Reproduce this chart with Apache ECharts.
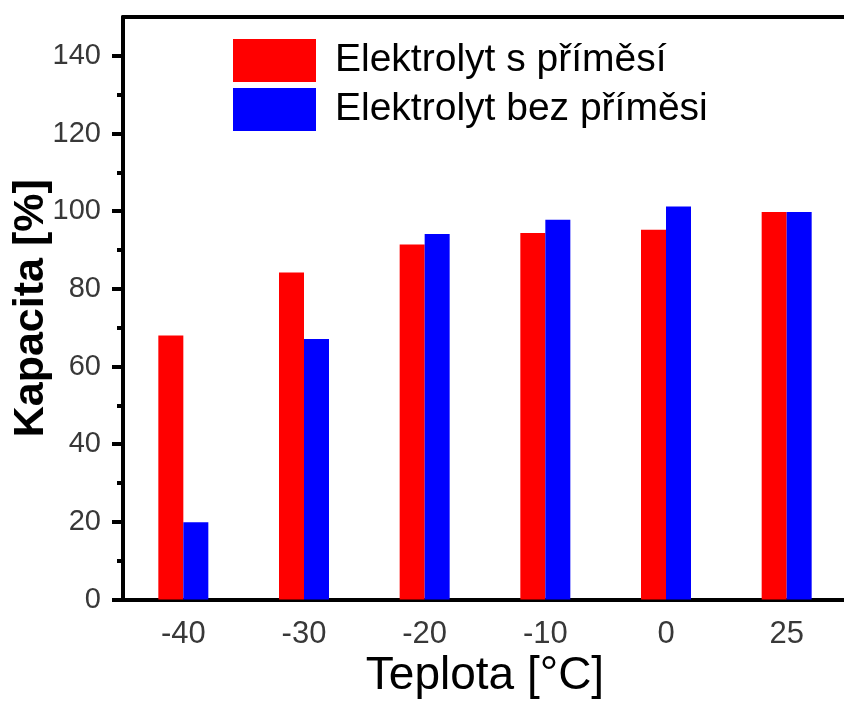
<!DOCTYPE html>
<html>
<head>
<meta charset="utf-8">
<script src="https://cdn.jsdelivr.net/npm/echarts@6/dist/echarts.min.js"></script>
<style>
html,body{margin:0;padding:0;background:#fff;}
#chart{width:844px;height:705px;}
</style>
</head>
<body>
<div id="chart"></div>
<script>
const categories = ['-40', '-30', '-20', '-10', '0', '25'];
const seriesNames = ['Elektrolyt s příměsí', 'Elektrolyt bez příměsi'];
const withAdditive = [68, 84.2, 91.4, 94.4, 95.2, 99.8];
const withoutAdditive = [19.9, 67.1, 94.1, 97.8, 101.2, 99.8];
const yMajorTicks = [0, 20, 40, 60, 80, 100, 120, 140];
const yMinorTicks = [10, 30, 50, 70, 90, 110, 130];
const yMax = 150;

const chart = echarts.init(document.getElementById('chart'));
const font = 'Liberation Sans, Arial, sans-serif';

chart.setOption({
  animation: false,
  backgroundColor: '#fff',
  grid: { left: 123, top: 17, width: 724, bottom: 105.5, containLabel: false, outerBoundsMode: 'none' },
  legend: {
    left: 233, top: 39, orient: 'vertical', padding: 0,
    itemWidth: 83, itemHeight: 43, itemGap: 6,
    icon: 'rect',
    textStyle: { fontFamily: font, fontSize: 39, color: '#000', lineHeight: 43, padding: [0, 0, 0, 14] },
    data: seriesNames
  },
  xAxis: [
    {
      type: 'category', data: categories, position: 'bottom',
      axisLine: { lineStyle: { color: '#000', width: 4 } },
      axisTick: { alignWithLabel: true, length: 12, lineStyle: { color: '#000', width: 4 } },
      axisLabel: { fontFamily: font, fontSize: 31, color: '#383838', margin: 19 },
      name: 'Teplota [°C]', nameLocation: 'middle', nameGap: 54, nameMoveOverlap: false,
      nameTextStyle: { fontFamily: font, fontSize: 46, color: '#000' }
    },
    {
      type: 'category', data: categories, position: 'bottom',
      axisLine: { show: false },
      axisTick: { length: 6, lineStyle: { color: '#000', width: 4 } },
      axisLabel: { show: false }
    },
    {
      type: 'category', data: categories, position: 'top',
      axisLine: { lineStyle: { color: '#000', width: 4 } },
      axisTick: { show: false },
      axisLabel: { show: false }
    }
  ],
  yAxis: [
    {
      type: 'value', min: 0, max: yMax, position: 'left',
      splitLine: { show: false },
      axisLine: { show: true, lineStyle: { color: '#000', width: 4 } },
      axisTick: { show: true, length: 11, customValues: yMajorTicks, lineStyle: { color: '#000', width: 4 } },
      axisLabel: { fontFamily: font, fontSize: 29, color: '#383838', margin: 22, customValues: yMajorTicks },
      name: 'Kapacita [%]', nameLocation: 'middle', nameGap: 70, nameMoveOverlap: false,
      nameTextStyle: { fontFamily: font, fontSize: 43, fontWeight: 'bold', color: '#000' }
    },
    {
      type: 'value', min: 0, max: yMax, position: 'left',
      splitLine: { show: false },
      axisLine: { show: false },
      axisTick: { show: true, length: 6, customValues: yMinorTicks, lineStyle: { color: '#000', width: 4 } },
      axisLabel: { show: false }
    }
  ],
  series: [
    {
      name: seriesNames[0], type: 'bar', data: withAdditive,
      barWidth: 25, barGap: '0%', itemStyle: { color: '#ff0000' }
    },
    {
      name: seriesNames[1], type: 'bar', data: withoutAdditive,
      barWidth: 25, barGap: '0%', itemStyle: { color: '#0000ff' }
    }
  ]
});
</script>
</body>
</html>
